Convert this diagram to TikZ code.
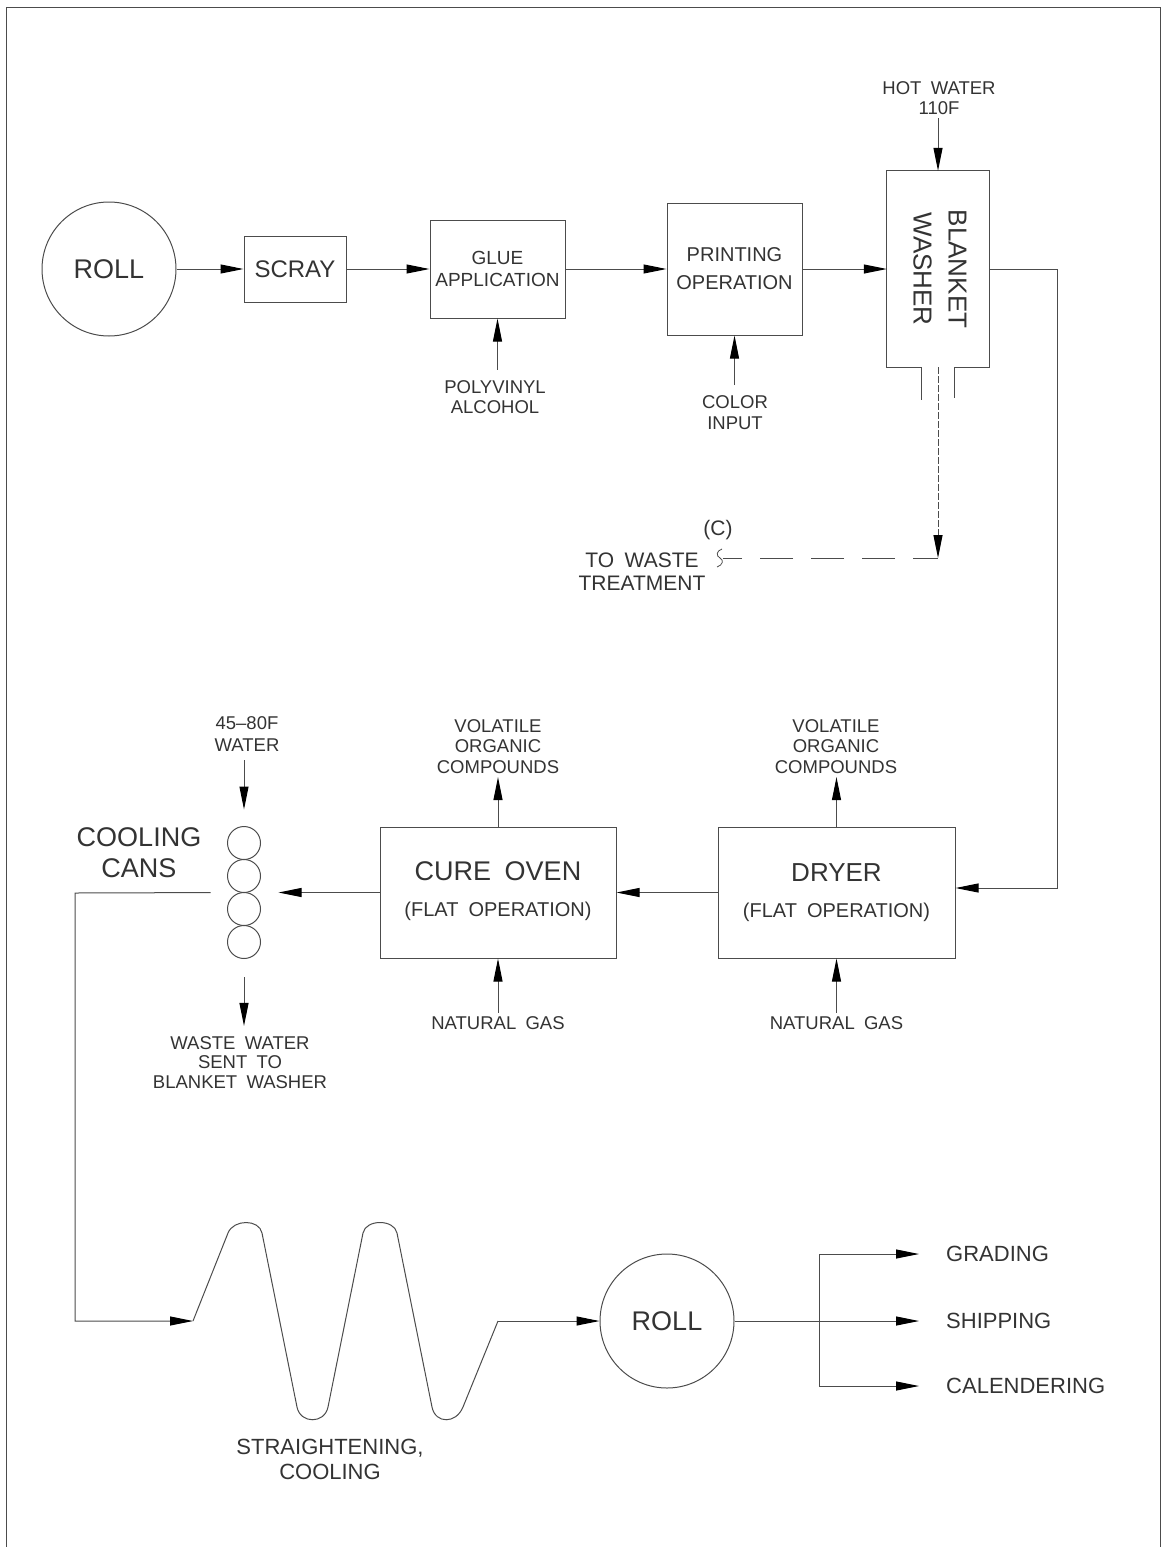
\documentclass[tikz,border=0pt]{standalone}
\usepackage{fontspec}
\setmainfont{Liberation Sans}[WordSpace=1.8]
\usetikzlibrary{arrows.meta,calc}
\tikzset{
  ln/.style={draw=black!70, line width=1pt},
  arr/.style={ln, -{Triangle[length=23pt,width=9pt,color=black]}},
  box/.style={draw=black!70, line width=1pt, rectangle, inner sep=0pt, align=center, text=black!80},
  rollc/.style={draw=black!70, line width=1pt, circle, minimum size=134pt, inner sep=0pt, text=black!80, font=\fontsize{27}{30}\selectfont},
  can/.style={draw=black!70, line width=1pt, circle, minimum size=33pt, inner sep=0pt},
  lab/.style={align=center, text=black!80, font=\fontsize{18.5}{20.5}\selectfont},
  midlab/.style={align=center, text=black!80},
  outlab/.style={anchor=west, inner sep=0pt, text=black!80, font=\fontsize{22}{24}\selectfont}
}
\begin{document}
\begin{tikzpicture}[x=1pt,y=-1pt]
\useasboundingbox (0,0) rectangle (1162,1547);
\draw[ln] (6,1547) -- (6,7) -- (1160,7) -- (1160,1547);

% top row
\node[rollc] (roll1) at (109,269) {ROLL};
\node[box, minimum width=102pt, minimum height=66pt, font=\fontsize{24}{28}\selectfont] (scray) at (295,269) {SCRAY};
\node[box, minimum width=135pt, minimum height=98pt, font=\fontsize{19}{22}\selectfont] (glue) at (497.5,269) {GLUE\\APPLICATION};
\node[box, minimum width=135pt, minimum height=132pt, font=\fontsize{20}{28}\selectfont] (print) at (734.5,269) {PRINTING\\OPERATION};
\node[minimum width=102pt, minimum height=196pt, inner sep=0pt] (washer) at (938,269) {};
\node[rotate=-90, midlab, font=\fontsize{26}{35}\selectfont] (washerlab) at (940,269) {BLANKET\\WASHER};

\draw[ln] ($(washer.south)+(-17,0)$) -- (washer.south west) -- (washer.north west) -- (washer.north east) -- (washer.south east) -- ($(washer.south)+(16,0)$);
\draw[ln] ($(washer.south)+(-17,0)$) -- ++(0,33);
\draw[ln] ($(washer.south)+(16,0)$) -- ++(0,31);

\node[lab] (hot) at (939,98) {HOT WATER\\110F};
\node[lab] (pva) at (495,397) {POLYVINYL\\ALCOHOL};
\node[lab] (color) at (735,412.5) {COLOR\\INPUT};

\draw[arr] (roll1.east) -- (scray.west);
\draw[arr] (scray.east) -- (glue.west);
\draw[arr] (glue.east) -- (print.west);
\draw[arr] (print.east) -- (washer.west);
\draw[arr] (hot.south -| washer.north) -- (washer.north);
\draw[arr] ($(pva.north -| glue.south)+(0,-7)$) -- (glue.south);
\draw[arr] ($(color.north -| print.south)+(0,-7)$) -- (print.south);

% waste treatment
\coordinate (wc) at (938,558);
\coordinate (hook) at (723,558);
\draw[arr, dash pattern=on 7pt off 2pt] (washer.south) -- (wc);
\draw[ln, dash pattern=on 33pt off 18pt, dash phase=8pt] (wc) -- (hook);
\draw[ln, line width=0.8pt] (722,549) .. controls (716,551) and (716,556) .. (720,558) .. controls (724,560) and (723,565) .. (717,567);
\node[midlab, font=\fontsize{21}{23}\selectfont] (cmark) at (718,530) {(C)};
\node[midlab, font=\fontsize{21}{23}\selectfont] (waste) at (642,571.5) {TO WASTE\\TREATMENT};

% middle row
\node[box, minimum width=237pt, minimum height=131pt, font=\fontsize{26}{36}\selectfont] (dryer) at (836.5,892.5) {DRYER\\\fontsize{20}{36}\selectfont (FLAT OPERATION)};
\node[box, minimum width=236pt, minimum height=131pt, font=\fontsize{27}{36}\selectfont, text depth=6pt] (cure) at (498,892.5) {CURE OVEN\\\fontsize{20}{36}\selectfont (FLAT OPERATION)};

\node[lab] (voc1) at (498,746.5) {VOLATILE\\ORGANIC\\COMPOUNDS};
\node[lab] (voc2) at (836,746.5) {VOLATILE\\ORGANIC\\COMPOUNDS};
\node[lab] (ng1) at (498,1023) {NATURAL GAS};
\node[lab] (ng2) at (836.5,1023) {NATURAL GAS};

\draw[arr] (cure.north) -- (voc1.south);
\draw[arr] (dryer.north) -- (voc2.south -| dryer.north);
\draw[arr] (ng1.north -| cure.south) -- (cure.south);
\draw[arr] (ng2.north -| dryer.south) -- (dryer.south);

\coordinate (rturn) at (1057,888);
\draw[arr] (washer.east) -| (rturn) -- (rturn -| dryer.east);
\draw[arr] (dryer.west) -- (cure.east);

% cooling cans
\node[can] (can1) at (244,843) {};
\node[can] (can2) at (244,876) {};
\node[can] (can3) at (244,909) {};
\node[can] (can4) at (244,942) {};
\node[midlab, font=\fontsize{27}{31}\selectfont] (coollab) at (139,852.5) {COOLING\\CANS};
\node[lab, font=\fontsize{18.5}{22}\selectfont] (cw) at (247,734) {45--80F\\WATER};
\node[lab, font=\fontsize{18.5}{19.5}\selectfont] (ww) at (240,1062.5) {WASTE WATER\\SENT TO\\BLANKET WASHER};

\draw[arr, shorten >=17.5pt] (cure.west) -- (cure.west -| can2.east);
\draw[arr, shorten <=5pt, shorten >=16.5pt] (cw.south -| can1.north) -- (can1.north);
\draw[arr, shorten <=18pt, shorten >=7pt] (can4.south) -- (can4.south |- ww.north);

% straightening
\coordinate (lc) at (75,893);
\coordinate (wavein) at (193,1321);
\coordinate (waveout) at (498,1321);
\draw[arr, shorten <=16.5pt] (can2.west |- cure.west) -- (lc) -- (lc |- wavein) -- (wavein);
\draw[ln] (wavein) -- (228,1233)
  .. controls (233.6,1219) and (259.2,1219) .. (262,1233) -- (297,1407)
  .. controls (300.4,1424) and (324.6,1424) .. (328,1407) -- (363,1233)
  .. controls (365.8,1219) and (394.2,1219) .. (397,1233) -- (432,1407)
  .. controls (435.4,1424) and (456.1,1424) .. (463,1407) -- (waveout);
\node[midlab, font=\fontsize{22}{25}\selectfont] (strlab) at (330,1459.5) {STRAIGHTENING,\\COOLING};

% final roll and outputs
\node[rollc] (roll2) at (667,1321) {ROLL};
\draw[arr] (waveout) -- (roll2.west);
\coordinate (br) at (819,1321);
\node[outlab] (grading) at (946,1254) {GRADING};
\node[outlab] (shipping) at (946,1321) {SHIPPING};
\node[outlab] (calend) at (946,1386) {CALENDERING};
\draw[ln] (roll2.east) -- (br);
\draw[arr, shorten >=27pt] (br) -- (shipping.west);
\draw[arr, shorten >=27pt] (br) |- (grading.west);
\draw[arr, shorten >=27pt] (br) |- (calend.west);
\end{tikzpicture}
\end{document}
